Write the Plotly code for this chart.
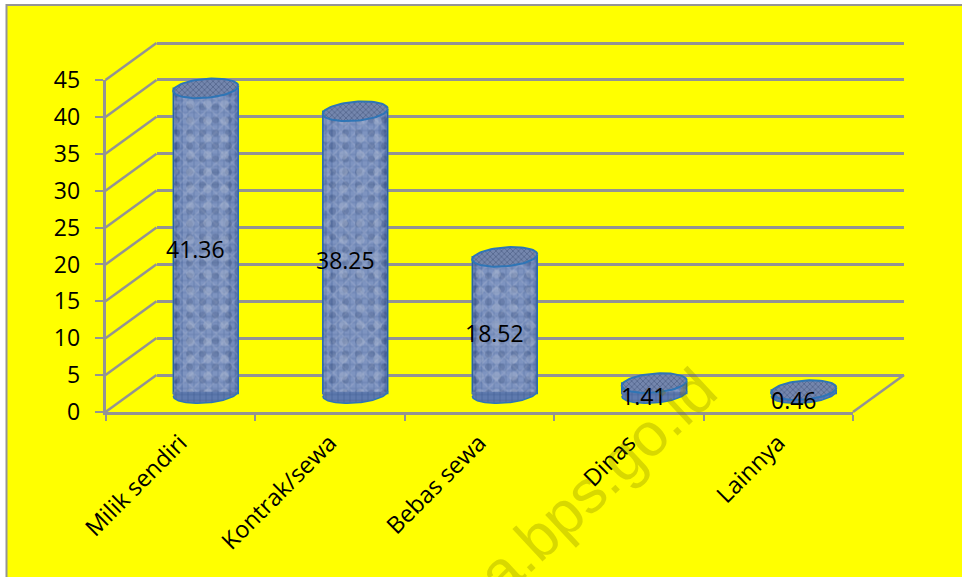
import math
import plotly.graph_objects as go

# Tenure categories and their percentages
categories = ["Milik sendiri", "Kontrak/sewa", "Bebas sewa", "Dinas", "Lainnya"]
values = [41.36, 38.25, 18.52, 1.41, 0.46]
value_labels = ["41.36", "38.25", "18.52", "1.41", "0.46"]
y_ticks = [0, 5, 10, 15, 20, 25, 30, 35, 40, 45]

W, H = 962, 577
FRONT_L, FRONT_R = 105.5, 853.0
FRONT_TOP, FRONT_BOTTOM = 80.0, 412.0
DEPTH_X, DEPTH_Y = 51.0, 37.0
GRID = "#939393"
EDGE = "#2e75b6"
FONT = "Open Sans"

PX_PER_UNIT_Y = (FRONT_BOTTOM - FRONT_TOP) / 45
PX_PER_UNIT_X = (FRONT_R - FRONT_L) / 5
RX = 32.5 / PX_PER_UNIT_X
RY = 9.5 / PX_PER_UNIT_Y
TILT = 2.5 / PX_PER_UNIT_Y
MID_FLOOR = -3.0  # room below zero for the rounded cylinder bases
BACK_PAD = 1.0    # keeps the 0 and 45 gridlines inside the back plane


def dom_x(shift):
    return [(FRONT_L + shift) / W, (FRONT_R + shift) / W]


def dom_y(shift, floor=0.0, ceil=45.0):
    return [1 - (FRONT_BOTTOM - shift - floor * PX_PER_UNIT_Y) / H,
            1 - (FRONT_BOTTOM - shift - ceil * PX_PER_UNIT_Y) / H]


def ellipse(cx, cy, start=0.0, stop=360.0, n=73):
    xs, ys = [], []
    for k in range(n):
        t = math.radians(start + (stop - start) * k / (n - 1))
        xs.append(cx + RX * math.cos(t))
        ys.append(cy + RY * math.sin(t) + TILT * math.cos(t))
    return xs, ys


WEAVE = dict(shape="+", fgcolor="#3a5b96", bgcolor="#8ea8dc", size=6, solidity=0.24)
CLEAR = "rgba(0,0,0,0)"

fig = go.Figure()
positions = list(range(len(categories)))

# Empty trace so the back wall plane draws its gridlines
fig.add_trace(go.Scatter(x=[None], y=[None], xaxis="x", yaxis="y", showlegend=False, hoverinfo="skip"))

# Cylinder bodies: woven base, overlaid weaves of other pitch, darker toward the rim
fig.add_trace(go.Bar(
    x=positions, y=values, width=2 * RX, xaxis="x2", yaxis="y2", showlegend=False,
    marker=dict(color="#8ea8dc", line=dict(color=EDGE, width=1.5), pattern=WEAVE),
))
for shape, fg, size, solidity in [("x", "rgba(232,241,255,0.55)", 11, 0.25),
                                  (".", "rgba(30,55,105,0.65)", 13, 0.22),
                                  (".", "rgba(240,246,255,0.7)", 17, 0.2)]:
    fig.add_trace(go.Bar(
        x=positions, y=values, width=2 * RX * 0.97, xaxis="x2", yaxis="y2", showlegend=False,
        marker=dict(color=CLEAR, line=dict(width=0),
                    pattern=dict(shape=shape, fgcolor=fg, bgcolor=CLEAR, size=size, solidity=solidity)),
    ))
for share, color in [(1.0, "rgba(20,45,100,0.32)"), (0.88, "rgba(255,255,255,0.09)"), (0.7, "rgba(255,255,255,0.08)")]:
    fig.add_trace(go.Bar(
        x=positions, y=values, width=2 * RX * share, xaxis="x2", yaxis="y2", showlegend=False,
        marker=dict(color=color, line=dict(width=0)),
    ))

# Rounded bottoms and the tops of the cylinders
for pos, val in zip(positions, values):
    xs, ys = ellipse(pos, 0, 180, 360)
    # The fill closes just above zero so it hides the flat foot of the bar
    fill_xs = xs + [pos + RX, pos - RX]
    fill_ys = ys + [0.25, 0.25]
    fig.add_trace(go.Scatter(
        x=fill_xs, y=fill_ys, xaxis="x2", yaxis="y2", mode="lines", fill="toself",
        line=dict(width=0, color=EDGE), fillcolor="#5f7aae", showlegend=False, hoverinfo="skip",
        fillpattern=dict(shape="+", fgcolor="#2c4a82", bgcolor="#5f7aae", size=6, solidity=0.24),
    ))
    fig.add_trace(go.Scatter(
        x=xs, y=ys, xaxis="x2", yaxis="y2", mode="lines",
        line=dict(width=1.5, color=EDGE), showlegend=False, hoverinfo="skip",
    ))
    xs, ys = ellipse(pos, val)
    fig.add_trace(go.Scatter(
        x=xs, y=ys, xaxis="x2", yaxis="y2", mode="lines", fill="toself",
        line=dict(width=2, color=EDGE), fillcolor="#5b6f9c", showlegend=False, hoverinfo="skip",
        fillpattern=dict(shape="x", fgcolor="#2f4169", bgcolor="#7486ad", size=4, solidity=0.35),
    ))

# Back wall plane: supplies the horizontal gridlines
back_y = dict(domain=dom_y(DEPTH_Y, -BACK_PAD, 45 + BACK_PAD), range=[-BACK_PAD, 45 + BACK_PAD], tickvals=y_ticks,
              showgrid=True, gridcolor=GRID, gridwidth=2.5, showticklabels=False, ticks="", showline=False,
              zeroline=False, anchor="x", automargin=False)
back_x = dict(domain=dom_x(DEPTH_X), range=[0, 5], showgrid=False, showticklabels=False, ticks="",
              showline=False, zeroline=False, anchor="y", automargin=False)

# Middle plane: cylinders stand here
mid_y = dict(domain=dom_y(DEPTH_Y / 2, MID_FLOOR), range=[MID_FLOOR, 45], visible=False, anchor="x2", automargin=False)
mid_x = dict(domain=dom_x(DEPTH_X / 2), range=[-0.5, 4.5], visible=False, anchor="y2", automargin=False)

# Front plane: the visible axes with their labels
front_x = dict(domain=dom_x(0), type="category", categoryorder="array", categoryarray=categories,
               range=[-0.5, 4.5], tickson="boundaries", ticks="outside", ticklen=6, tickwidth=2, tickcolor=GRID,
               showline=True, linecolor=GRID, linewidth=2.5, showgrid=False, zeroline=False, tickangle=-45,
               ticklabelstandoff=5, tickfont=dict(family=FONT, size=23.5, color="black"), anchor="y3", automargin=False)
front_y = dict(domain=dom_y(0), range=[0, 45], tickvals=y_ticks, ticks="outside", ticklen=8, tickwidth=2,
               tickcolor=GRID, showline=True, linecolor=GRID, linewidth=2.5, showgrid=False, zeroline=False,
               ticklabelstandoff=10, tickfont=dict(family=FONT, size=23, color="black"), anchor="x3", automargin=False)

fig.add_trace(go.Bar(x=categories, y=[None] * len(categories), xaxis="x3", yaxis="y3",
                     showlegend=False, hoverinfo="skip"))

# Frame and wall/floor edges
shapes = [dict(type="rect", xref="paper", yref="paper", x0=6.5 / W, x1=1.02, y0=-0.02, y1=1 - 5 / H,
               fillcolor="#ffff00", line=dict(color="#959595", width=2), layer="below")]
for tick in y_ticks:
    y_front = FRONT_BOTTOM - tick * PX_PER_UNIT_Y
    shapes.append(dict(type="line", xref="paper", yref="paper", layer="below",
                       x0=FRONT_L / W, y0=1 - y_front / H,
                       x1=(FRONT_L + DEPTH_X) / W, y1=1 - (y_front - DEPTH_Y) / H,
                       line=dict(color=GRID, width=2.5)))
shapes.append(dict(type="line", xref="paper", yref="paper", layer="below",
                   x0=FRONT_R / W, y0=1 - FRONT_BOTTOM / H,
                   x1=(FRONT_R + DEPTH_X) / W, y1=1 - (FRONT_BOTTOM - DEPTH_Y) / H,
                   line=dict(color=GRID, width=2.5)))

# Value labels sit slightly left of and below each cylinder's midpoint
annotations = [
    dict(x=pos, y=val / 2, xref="x2", yref="y2", text=label, showarrow=False, xshift=-10, yshift=-8,
         font=dict(family=FONT, size=23, color="black"))
    for pos, val, label in zip(positions, values, value_labels)
]
# Site watermark across the lower right
annotations.append(dict(x=597 / W, y=1 - 482 / H, xref="paper", yref="paper", xanchor="center", yanchor="middle",
                        text="a.bps.go.id", showarrow=False, textangle=-43,
                        font=dict(family="Liberation Sans", size=61, color="rgba(110,110,0,0.27)")))

fig.update_layout(
    width=W, height=H, margin=dict(l=0, r=0, t=0, b=0), autosize=False,
    paper_bgcolor="white", plot_bgcolor="rgba(0,0,0,0)", barmode="overlay",
    showlegend=False, font=dict(family=FONT),
    xaxis=back_x, yaxis=back_y, xaxis2=mid_x, yaxis2=mid_y, xaxis3=front_x, yaxis3=front_y,
    shapes=shapes, annotations=annotations,
)

fig.write_html("out.html")
